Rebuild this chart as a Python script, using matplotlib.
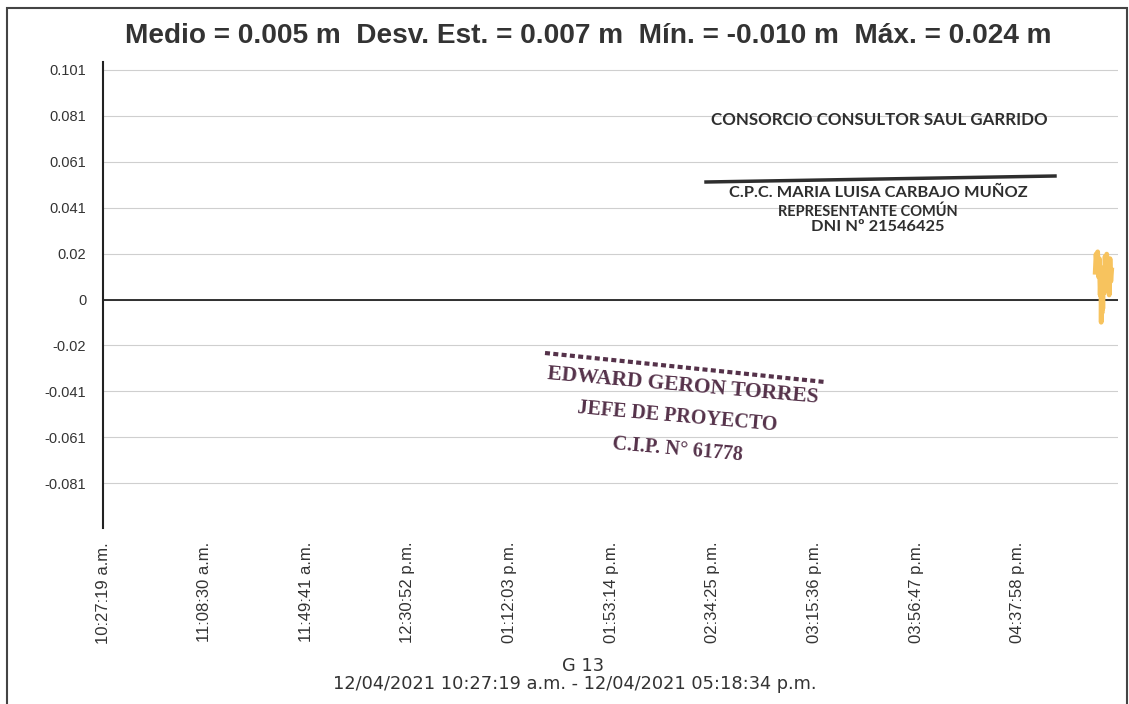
import matplotlib
matplotlib.use("Agg")
import matplotlib.pyplot as plt
from matplotlib.lines import Line2D
from matplotlib.patches import Rectangle

# ---------------- data ----------------
tick_times = ["10:27:19", "11:08:30", "11:49:41", "12:30:52", "13:12:03",
              "13:53:14", "14:34:25", "15:15:36", "15:56:47", "16:37:58"]
tick_labels = ["10:27:19 a.m.", "11:08:30 a.m.", "11:49:41 a.m.", "12:30:52 p.m.",
               "01:12:03 p.m.", "01:53:14 p.m.", "02:34:25 p.m.", "03:15:36 p.m.",
               "03:56:47 p.m.", "04:37:58 p.m."]
start_time = "10:27:19"
end_time = "17:18:34"

series_times = ["17:09:20", "17:09:40", "17:10:00", "17:10:20", "17:10:40",
                "17:11:00", "17:11:20", "17:11:35", "17:11:45", "17:11:55",
                "17:12:05", "17:12:15", "17:12:25", "17:12:40", "17:13:00",
                "17:13:20", "17:13:40", "17:14:00", "17:14:20", "17:14:40",
                "17:15:00", "17:15:20", "17:15:40", "17:16:00"]
series_values = [0.012, 0.020, 0.015, 0.021, 0.010,
                 0.018, 0.002, 0.012, -0.010, 0.006,
                 -0.006, 0.010, -0.004, 0.014, 0.003,
                 0.019, 0.006, 0.020, 0.009, 0.016,
                 0.002, 0.018, 0.008, 0.013]

ytick_labels = ["0.101", "0.081", "0.061", "0.041", "0.02", "0",
                "-0.02", "-0.041", "-0.061", "-0.081"]
ytick_step = 0.0202

title = "Medio = 0.005 m  Desv. Est. = 0.007 m  Mín. = -0.010 m  Máx. = 0.024 m"
sensor = "G 13"
period = "12/04/2021 10:27:19 a.m. - 12/04/2021 05:18:34 p.m."


def to_hours(s):
    h, m, sec = (int(v) for v in s.split(":"))
    return h + m / 60 + sec / 3600


plt.rcParams["font.family"] = ["Liberation Sans", "DejaVu Sans"]

fig = plt.figure(figsize=(11.29, 7.04), dpi=100)
W, H = 1129, 704


def fx(px):
    return px / W


def fy(py):
    return 1 - py / H


ax = fig.add_axes([fx(103), fy(528), fx(1118) - fx(103), fy(62) - fy(528)])

x = [to_hours(t) for t in series_times]
ax.plot(x, series_values, color="#F7C35E", lw=3.4, solid_joinstyle="round", zorder=3)
ax.axhline(0, color="#222222", lw=1.3, zorder=2)

ax.set_xlim(to_hours(start_time), to_hours(end_time))
ax.set_ylim(-0.1005, 0.1045)

yt = [ytick_step * (5 - i) for i in range(len(ytick_labels))]
ax.set_yticks(yt)
ax.set_yticklabels(ytick_labels, fontsize=10.5, color="#333333")
ax.set_xticks([to_hours(t) for t in tick_times])
ax.set_xticklabels(tick_labels, rotation=90, fontsize=12, color="#333333",
                   va="top", ha="center")
ax.tick_params(axis="y", length=0, pad=12)
ax.tick_params(axis="x", length=0, pad=10)
ax.grid(axis="y", color="#cfcfcf", lw=0.8)
ax.set_axisbelow(True)
for s in ["top", "right", "bottom"]:
    ax.spines[s].set_visible(False)
ax.spines["left"].set_color("#222222")
ax.spines["left"].set_linewidth(1.5)

fig.text(fx(588), fy(36), title, ha="center", va="center",
         fontsize=20.2, fontweight="bold", color="#333333")
bottom_font = ["DejaVu Sans"]
fig.text(fx(583), fy(666), sensor, ha="center", va="center", fontsize=12.8,
         color="#333333", family=bottom_font)
fig.text(fx(575), fy(684), period, ha="center", va="center", fontsize=12.8,
         color="#333333", family=bottom_font)

# page frame
fig.add_artist(Rectangle((fx(7), fy(704) - 0.01), fx(1127) - fx(7), fy(8) - fy(704) + 0.01,
                         transform=fig.transFigure, fill=False, ec="#444444", lw=1.5))

# stamp 1
stamp_font = ["Lato", "DejaVu Sans"]
fig.text(fx(879), fy(120), "CONSORCIO CONSULTOR SAUL GARRIDO", ha="center", va="center",
         fontsize=12.2, fontweight="bold", color="#2e2e2e", family=stamp_font)
fig.add_artist(Line2D([fx(706), fx(1055)], [fy(182), fy(176)], transform=fig.transFigure,
                      color="#2e2e2e", lw=2.5))
fig.text(fx(878), fy(193), "C.P.C. MARIA LUISA CARBAJO MUÑOZ", ha="center", va="center",
         fontsize=11.8, fontweight="bold", color="#2e2e2e", family=stamp_font)
fig.text(fx(868), fy(212), "REPRESENTANTE COMÚN", ha="center", va="center",
         fontsize=10.5, fontweight="bold", color="#2e2e2e", family=stamp_font)
fig.text(fx(878), fy(227), "DNI Nº 21546425", ha="center", va="center",
         fontsize=11.8, fontweight="bold", color="#2e2e2e", family=stamp_font)

# stamp 2
serif = ["Liberation Serif", "DejaVu Serif"]
sc = "#55324a"
fig.add_artist(Line2D([fx(545), fx(825)], [fy(353), fy(382)], transform=fig.transFigure,
                      color=sc, lw=3, ls=(0, (1.2, 0.8))))
fig.text(fx(683), fy(386), "EDWARD GERON TORRES", ha="center", va="center", rotation=-5,
         fontsize=15.5, fontweight="bold", color=sc, family=serif)
fig.text(fx(677), fy(417), "JEFE DE PROYECTO", ha="center", va="center", rotation=-5,
         fontsize=14.5, fontweight="bold", color=sc, family=serif)
fig.text(fx(677), fy(450), "C.I.P. N° 61778", ha="center", va="center", rotation=-5,
         fontsize=14.5, fontweight="bold", color=sc, family=serif)

fig.savefig("out.png", dpi=100, facecolor="white")
